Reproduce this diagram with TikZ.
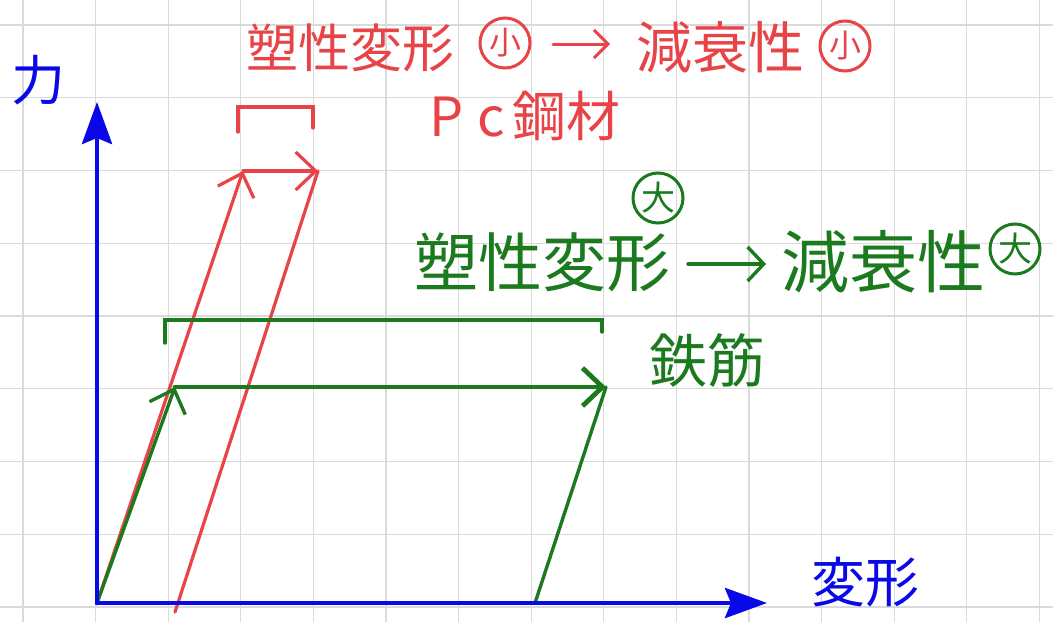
\documentclass[tikz,border=0pt]{standalone}
\usepackage{fontspec}
\setmainfont{Noto Sans CJK JP}
\usetikzlibrary{arrows.meta}
\definecolor{penred}{RGB}{232,68,72}
\definecolor{pengreen}{RGB}{28,122,30}
\definecolor{penblue}{RGB}{8,8,232}
\definecolor{gridgray}{RGB}{218,218,218}
\newcommand{\fs}[1]{\fontsize{#1}{#1}\selectfont}
\tikzset{
  gridline/.style={draw=gridgray, line width=1.3pt},
  axisline/.style={draw=penblue, line width=4.5pt, line cap=round, -{Stealth[length=42pt,width=30pt,inset=6pt]}},
  redline/.style={draw=penred, line width=3.2pt, line cap=round},
  greenline/.style={draw=pengreen, line width=3.4pt, line cap=round},
  barbtip/.style={-{Straight Barb[length=20pt,width=38pt]}},
  redtext/.style={text=penred, inner sep=0pt},
  greentext/.style={text=pengreen, inner sep=0pt},
  bluetext/.style={text=penblue, inner sep=0pt},
  redmark/.style={draw=penred, text=penred, line width=3pt, circle, inner sep=0pt, minimum size=50pt, font=\fs{32}},
  greenmark/.style={draw=pengreen, text=pengreen, line width=3pt, circle, inner sep=0pt, minimum size=50pt, font=\fs{34}},
}
\begin{document}
\begin{tikzpicture}[x=1pt,y=-1pt]
\fill[white] (0,0) rectangle (1053,622);
\useasboundingbox (0,0) rectangle (1053,622);
% grid
\foreach \i in {0,...,14} \draw[gridline] ({23+72.6*\i},0) -- ++(0,622);
\foreach \j in {0,...,8} \draw[gridline] (0,{25+72.75*\j}) -- ++(1053,0);

% key points
\coordinate (O) at (97,603);
\coordinate (ytip) at (97,102);
\coordinate (xtip) at (767,603);
\coordinate (gy) at (175,387);
\coordinate (gx) at (606,387);
\coordinate (gb) at (535,603);
\coordinate (ry) at (243,171);
\coordinate (rx) at (318,171);
\coordinate (rb) at (175,612);
\coordinate (gbl) at (165,343);
\coordinate (gtl) at (165,320);
\coordinate (gtr) at (602,320);
\coordinate (gbr) at (602,332);
\coordinate (rbl) at (238,132);
\coordinate (rtl) at (238,107);
\coordinate (rtr) at (313,107);
\coordinate (rbr) at (313,128);

% red curve (PC steel)
\draw[redline, barbtip] (O) -- (ry);
\draw[redline, barbtip] (ry) -- (rx);
\draw[redline] (rx) -- (rb);
\draw[redline] (rbl) -- (rtl) -- (rtr) -- (rbr);

% green curve (rebar)
\draw[greenline, barbtip] (O) -- (gy);
\draw[greenline, line width=4.8pt, barbtip] (gy) -- (gx);
\draw[greenline] (gx) -- (gb);
\draw[greenline] (gbl) -- (gtl) -- (gtr) -- (gbr);

% axes
\draw[axisline] (O) -- (ytip);
\draw[axisline] (O) -- (xtip);

% axis labels
\node[bluetext, font=\fs{54}] (force) at (38,80) {力};
\node[bluetext, font=\fs{54}] (deform) at (865,582) {変形};

% red labels
\node[redtext, font=\fs{52}] (r1) at (350,48) {塑性変形};
\node[redmark] (r2) at (505,43) {小};
\coordinate (ra1) at (553,44);
\coordinate (ra2) at (610,44);
\node[redtext, font=\fs{56}] (r3) at (720,47) {減衰性};
\node[redmark] (r4) at (845,46) {小};
\draw[redline, line width=3pt, -{Straight Barb[length=14pt,width=28pt]}] (ra1) -- (ra2);
\node[redtext, font=\fs{54}] (pc) at (525,116) {P\hspace{14pt}c\hspace{8pt}鋼材};

% green labels
\node[greenmark] (g0) at (658,198) {大};
\node[greentext, font=\fs{64}] (g1) at (542,262) {塑性変形};
\coordinate (ga1) at (688,264);
\coordinate (ga2) at (766,264);
\draw[greenline, -{Straight Barb[length=16pt,width=34pt]}] (ga1) -- (ga2);
\node[greentext, font=\fs{68}] (g3) at (883,262) {減衰性};
\node[greenmark] (g4) at (1015,249) {大};
\node[greentext, font=\fs{58}] (rebar) at (707,360) {鉄筋};
\end{tikzpicture}
\end{document}
